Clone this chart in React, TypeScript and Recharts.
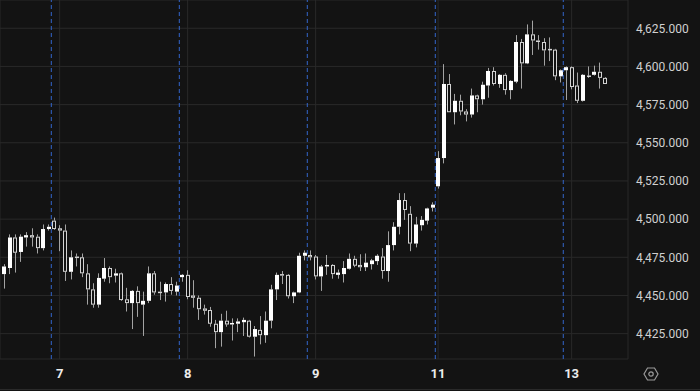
import React from 'react';
import { ComposedChart, Bar, XAxis, YAxis, CartesianGrid, ReferenceLine } from 'recharts';

const opens = [
  4464, 4468, 4488, 4478.5, 4488, 4489.5, 4488.5, 4481, 4493.5, 4499,
  4494, 4492.5, 4465.5, 4475.5, 4475, 4464.5, 4454, 4444, 4461, 4468,
  4463, 4464.5, 4447.5, 4445, 4453, 4444, 4446.5, 4464.5, 4452.5, 4452,
  4457.5, 4452.5, 4462, 4463.5, 4450, 4448.5, 4441.5, 4440.5, 4431.5, 4426,
  4433.5, 4431, 4431.5, 4432.5, 4433.5, 4423, 4427.5, 4424, 4433.5, 4454,
  4464, 4463.5, 4449.5, 4452, 4476, 4476.5, 4475.5, 4462.5, 4469, 4470,
  4463.5, 4464, 4467.5, 4474, 4470, 4468.5, 4470.5, 4472.5, 4475.5, 4466,
  4483, 4495, 4512.5, 4503.5, 4484, 4496, 4499, 4507.5, 4521.5, 4540,
  4588.5, 4570, 4577.5, 4570.5, 4568.5, 4581, 4578.5, 4587.5, 4597, 4588.5,
  4594.5, 4584.5, 4590, 4616, 4602, 4621, 4617, 4616, 4611.5, 4611,
  4593.5, 4597.5, 4599.5, 4587.5, 4577.5, 4593.5, 4594.5, 4596.5, 4592.5,
];
const highs = [
  4470.5, 4490, 4490, 4490, 4491.5, 4494, 4490, 4496.5, 4496.5, 4501,
  4496, 4496.5, 4479.5, 4477.5, 4477.5, 4470.5, 4458, 4464.5, 4474.5, 4469,
  4467.5, 4465, 4455, 4453.5, 4456, 4452.5, 4469, 4466, 4459, 4458.5,
  4462, 4459, 4464, 4466.5, 4460, 4450, 4444, 4442.5, 4434, 4438,
  4440, 4435, 4435, 4435.5, 4434, 4430, 4436.5, 4439.5, 4457, 4465,
  4466, 4464, 4452.5, 4478, 4479.5, 4479.5, 4476.5, 4470, 4476.5, 4470.5,
  4467, 4472.5, 4477.5, 4476, 4477, 4477.5, 4474, 4477, 4481, 4492,
  4498, 4517, 4517, 4508.5, 4501.5, 4502, 4507.5, 4511, 4544.5, 4601.5,
  4595, 4582, 4581.5, 4572, 4585.5, 4581.5, 4590, 4599, 4599.5, 4595,
  4595.5, 4591, 4620.5, 4618, 4627.5, 4630, 4620.5, 4618.5, 4619, 4611.5,
  4598, 4600, 4600, 4596, 4595, 4600, 4600.5, 4602.5, 4593,
];
const lows = [
  4454.5, 4464, 4465, 4472, 4482, 4482, 4477.5, 4479.5, 4492.5, 4493,
  4479, 4459.5, 4460.5, 4469, 4462, 4444, 4442, 4442, 4459, 4458,
  4458.5, 4446.5, 4439.5, 4428, 4436, 4423.5, 4445, 4450.5, 4447, 4446,
  4450.5, 4450, 4459, 4447.5, 4442, 4434, 4437.5, 4429.5, 4415.5, 4416.5,
  4429.5, 4420.5, 4426, 4423.5, 4422.5, 4410, 4418, 4419, 4428.5, 4447,
  4457.5, 4448, 4445, 4451.5, 4473, 4473, 4460.5, 4453, 4463.5, 4461,
  4461, 4458.5, 4467, 4468.5, 4466, 4466, 4467, 4470, 4461, 4459,
  4479.5, 4490, 4499.5, 4479, 4481.5, 4492.5, 4496.5, 4505, 4520, 4536.5,
  4570, 4562, 4568, 4564, 4566.5, 4570, 4575, 4579.5, 4587.5, 4586,
  4581.5, 4578.5, 4589, 4585.5, 4601.5, 4607.5, 4611, 4600.5, 4603.5, 4591,
  4589.5, 4578, 4585, 4576, 4577, 4592.5, 4594, 4585.5, 4588.5,
];
const closes = [
  4469, 4488, 4478, 4488.5, 4489.5, 4488, 4481, 4493.5, 4495, 4493.5,
  4492.5, 4465.5, 4475, 4474.5, 4464.5, 4454, 4444, 4461.5, 4468, 4462,
  4464.5, 4447, 4445, 4453, 4445, 4446.5, 4464.5, 4452, 4452, 4457.5,
  4453, 4456.5, 4463.5, 4449, 4448.5, 4441, 4440, 4431.5, 4426, 4433.5,
  4431, 4432, 4433, 4434, 4423, 4428, 4424, 4433.5, 4454, 4463.5,
  4463, 4449.5, 4452, 4476, 4478, 4475, 4462.5, 4469, 4470, 4464,
  4465, 4468, 4474, 4469.5, 4468.5, 4471.5, 4473, 4476, 4466, 4483,
  4495, 4512.5, 4506, 4484, 4496.5, 4499.5, 4507, 4509.5, 4540, 4588.5,
  4570, 4577.5, 4570.5, 4568.5, 4581, 4578.5, 4588, 4597, 4588.5, 4594.5,
  4584.5, 4590.5, 4616, 4602, 4621, 4617, 4616, 4610.5, 4611, 4593.5,
  4597.5, 4599.5, 4586.5, 4577.5, 4594.5, 4594, 4596.5, 4592.5, 4588.5,
];

const yTicks = [4425, 4450, 4475, 4500, 4525, 4550, 4575, 4600, 4625];
const dayTickIndex = [10, 33, 56, 78, 102];
const dayTickLabels = ['7', '8', '9', '11', '13'];
const sessionBreaks = [8.5, 31.5, 54.5, 77.5, 100.5];

const data = opens.map((o, i) => ({
  i,
  open: o,
  high: highs[i],
  low: lows[i],
  close: closes[i],
}));

const FILL_UP = '#ffffff';
const HOLLOW_STROKE = '#d4d4d4';
const WICK = '#a3a3a3';

const Candle = (props: any) => {
  const { x, y, width, height } = props;
  const p = props.payload || props;
  const { open, close, high, low } = p;
  if (x == null || y == null) return null;
  const top = Math.min(y, y + height);
  const h = Math.abs(height);
  const ppu = h / (high - low);
  const yOf = (v: number) => top + (high - v) * ppu;
  const cx = x + width / 2;
  const wx = Math.round(cx - 0.5) + 0.5;
  const bx = Math.round(cx - 2);
  const yO = yOf(open);
  const yC = yOf(close);
  const bTop = Math.min(yO, yC);
  const bBot = Math.max(yO, yC);
  const yH = yOf(high);
  const yL = yOf(low);
  const up = close >= open;
  return (
    <g>
      {bTop - yH > 0.2 && <line x1={wx} x2={wx} y1={yH} y2={bTop} stroke={WICK} strokeWidth={1} />}
      {yL - bBot > 0.2 && <line x1={wx} x2={wx} y1={bBot} y2={yL} stroke={WICK} strokeWidth={1} />}
      {up ? (
        <rect x={bx} y={bTop} width={4} height={Math.max(bBot - bTop, 1.2)} fill={FILL_UP} />
      ) : (
        <rect
          x={bx + 0.5}
          y={bTop + 0.5}
          width={3}
          height={Math.max(bBot - bTop - 1, 0.5)}
          fill="#131313"
          stroke={HOLLOW_STROKE}
          strokeWidth={1}
        />
      )}
    </g>
  );
};

const fmtPrice = (v: number) =>
  v.toLocaleString('en-US', { minimumFractionDigits: 3, maximumFractionDigits: 3 });

const fmtDay = (v: number) => {
  const k = dayTickIndex.indexOf(v);
  return k >= 0 ? dayTickLabels[k] : '';
};

export default function App() {
  return (
    <div
      style={{
        position: 'absolute',
        left: 0,
        top: 0,
        width: 700,
        height: 391,
        background: '#131313',
        fontFamily: 'Roboto, "Noto Sans", sans-serif',
        overflow: 'hidden',
      }}
    >
      <ComposedChart
        width={700}
        height={391}
        data={data}
        margin={{ top: 0, right: 0, bottom: 0, left: 0 }}
      >
        <CartesianGrid stroke="#292929" strokeWidth={1} />
        <XAxis
          dataKey="i"
          type="number"
          domain={[-0.72, 112.13]}
          ticks={dayTickIndex}
          tickFormatter={fmtDay}
          axisLine={false}
          tickLine={false}
          tickSize={6}
          tickMargin={4}
          height={32}
          interval={0}
          tick={{ fill: '#ececec', fontSize: 13, fontWeight: 700 }}
        />
        <YAxis
          orientation="right"
          type="number"
          domain={[4408.4, 4643.5]}
          ticks={yTicks}
          tickFormatter={fmtPrice}
          axisLine={false}
          tickLine={false}
          tickSize={6}
          tickMargin={2}
          width={72}
          interval={0}
          tick={{ fill: '#d0d0d0', fontSize: 12 }}
        />
        {sessionBreaks.map((s) => (
          <ReferenceLine key={s} x={s} stroke="#3366cc" strokeWidth={1} strokeDasharray="4 3" />
        ))}
        <Bar
          dataKey={(d: any) => [d.low, d.high]}
          barSize={4}
          shape={Candle}
          isAnimationActive={false}
        />
      </ComposedChart>
      <div
        style={{
          position: 'absolute',
          left: 0,
          top: 389,
          width: 700,
          height: 1,
          background: '#2a2a2a',
        }}
      />
      <svg
        width={16}
        height={16}
        style={{ position: 'absolute', left: 643, top: 366 }}
        viewBox="0 0 16 16"
      >
        <polygon
          points="4.5,2 11.5,2 15,8 11.5,14 4.5,14 1,8"
          fill="none"
          stroke="#9a9a9a"
          strokeWidth={1.2}
        />
        <circle cx={8} cy={8} r={2.2} fill="none" stroke="#9a9a9a" strokeWidth={1.2} />
      </svg>
    </div>
  );
}
